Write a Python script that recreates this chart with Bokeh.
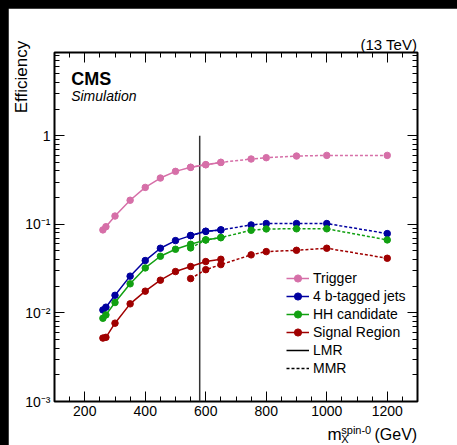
import re
import numpy as np
from bokeh.plotting import figure
from bokeh.models import (Range1d, FixedTicker, LinearAxis, LogAxis, Label, Legend, LegendItem,
                          CustomJSTickFormatter)
from bokeh.embed import file_html
from bokeh.resources import INLINE

# ---------------- data ----------------
mass_lmr = [260, 270, 300, 350, 400, 450, 500, 550, 600, 650]
mass_mmr = [550, 600, 650, 750, 800, 900, 1000, 1200]

trigger_lmr = [0.0865, 0.094, 0.124, 0.187, 0.261, 0.333, 0.396, 0.44, 0.471, 0.50]
trigger_mmr = [0.44, 0.471, 0.50, 0.546, 0.565, 0.59, 0.60, 0.60]
btag_lmr = [0.0108, 0.0116, 0.0158, 0.026, 0.039, 0.0537, 0.0655, 0.0746, 0.0834, 0.0865]
btag_mmr = [0.0746, 0.0834, 0.0865, 0.0984, 0.102, 0.102, 0.102, 0.0786]
hh_lmr = [0.0087, 0.0095, 0.0131, 0.0213, 0.0322, 0.0436, 0.0523, 0.0595, 0.0667, 0.0708]
hh_mmr = [0.0542, 0.0667, 0.0708, 0.0857, 0.0887, 0.089, 0.089, 0.0667]
sr_lmr = [0.0052, 0.0053, 0.00766, 0.01265, 0.0176, 0.0234, 0.0293, 0.0334, 0.038, 0.0403]
sr_mmr = [0.0244, 0.0308, 0.0351, 0.0452, 0.0492, 0.0509, 0.0537, 0.0414]

series_names = ["Trigger", "4 b-tagged jets", "HH candidate", "Signal Region"]
series_colors = ["#d66fa8", "#0000a0", "#11a011", "#a00000"]
lmr_mmr_boundary = 580
x_ticks = [200, 400, 600, 800, 1000, 1200]
y_ticks = [0.001, 0.01, 0.1, 1]

FONT = "Liberation Sans"

p = figure(width=449, height=437, x_range=Range1d(100, 1300), y_range=Range1d(1e-3, 8.7),
           y_axis_type="log", output_backend="svg", toolbar_location=None,
           min_border_left=46, min_border_right=40, min_border_top=44, min_border_bottom=44,
           background_fill_color="white", border_fill_color="white")
p.grid.visible = False
p.outline_line_color = "black"
p.outline_line_width = 2

x_minor = list(range(100, 1301, 50))
y_minor = [k * 10.0 ** e for e in range(-3, 1) for k in range(2, 10)]

sup = CustomJSTickFormatter(code="""
const e = Math.round(Math.log10(tick));
if (e == 0) return "1";
const m = {"-":"\u207b","0":"\u2070","1":"\u00b9","2":"\u00b2","3":"\u00b3","4":"\u2074"};
return "10" + String(e).split("").map(c => m[c]).join("");
""")
blank = CustomJSTickFormatter(code="return '';")

def style(ax, font="14px", standoff=4):
    ax.axis_line_color = None
    ax.major_tick_in = 10
    ax.major_tick_out = 0
    ax.minor_tick_in = 5
    ax.minor_tick_out = 0
    ax.major_tick_line_color = "black"
    ax.minor_tick_line_color = "black"
    ax.major_label_text_font = FONT
    ax.major_label_text_font_size = font
    ax.major_label_text_color = "black"
    ax.major_label_standoff = standoff

p.xaxis.ticker = FixedTicker(ticks=x_ticks, minor_ticks=x_minor)
p.yaxis.ticker = FixedTicker(ticks=y_ticks, minor_ticks=y_minor)
p.yaxis.formatter = sup
style(p.xaxis[0])
style(p.yaxis[0])

top = LinearAxis(ticker=FixedTicker(ticks=x_ticks, minor_ticks=x_minor), formatter=blank)
right = LogAxis(ticker=FixedTicker(ticks=y_ticks, minor_ticks=y_minor), formatter=blank)
style(top, font="0px", standoff=0)
style(right, font="0px", standoff=0)
p.add_layout(top, "above")
p.add_layout(right, "right")

# boundary line
p.segment(x0=[lmr_mmr_boundary], y0=[1e-3], x1=[lmr_mmr_boundary], y1=[1],
          line_color="#333333", line_width=1.5)

lmr_data = [trigger_lmr, btag_lmr, hh_lmr, sr_lmr]
mmr_data = [trigger_mmr, btag_mmr, hh_mmr, sr_mmr]
items = []
for name, col, yl, ym in zip(series_names, series_colors, lmr_data, mmr_data):
    p.line(mass_mmr, ym, line_color=col, line_width=1.5, line_dash="3 2")
    p.scatter(mass_mmr, ym, marker="circle", size=6.5, fill_color=col, line_color=col)
    ll = p.line(mass_lmr, yl, line_color=col, line_width=1.5)
    sl = p.scatter(mass_lmr, yl, marker="circle", size=6.5, fill_color=col, line_color=col)
    items.append(LegendItem(label=name, renderers=[ll, sl]))

lmr_r = p.line([np.nan], [np.nan], line_color="black", line_width=1.5)
mmr_r = p.line([np.nan], [np.nan], line_color="black", line_width=1.5, line_dash="3 2")
items.append(LegendItem(label="LMR", renderers=[lmr_r]))
items.append(LegendItem(label="MMR", renderers=[mmr_r]))

leg = Legend(items=items, location=(232, 24), padding=0, margin=0, spacing=0,
             label_height=18, glyph_height=18, glyph_width=23, label_standoff=4,
             label_text_font=FONT, label_text_font_size="14px", label_text_color="black",
             border_line_alpha=0, background_fill_alpha=0)
p.add_layout(leg)

def lab(x, y, t, size, style="normal", align="left", place=None, angle=0.0):
    l = Label(x=x, y=y, text=t, text_font=FONT, text_font_size=size,
              text_font_style=style, text_align=align, text_baseline="alphabetic",
              text_color="black", angle=angle)
    if place is None:
        p.add_layout(l)
    else:
        p.add_layout(l, place)

lab(155, 4.36, "CMS", "18px", "bold")
lab(155, 2.82, "Simulation", "14px", "italic")

# texts outside the frame (side panels; positioned in data units)
lab(1299, 10.6, "(13 TeV)", "15px", align="right", place="above")
lab(1048, 4.77e-4, "spin-0", "11px", place="above")
lab(1048, 3.78e-4, "X", "11px", place="above")
lab(-10, 11.8, "Efficiency", "17px", align="right", place="right", angle=np.pi / 2)
lab(1002.5, 4.19e-4, "m", "17px", place="right")
lab(1299, 4.19e-4, "(GeV)", "16px", align="right", place="below")

html = file_html(p, INLINE)
css = ("<style>html,body{background:#000 !important;overflow:hidden !important;}"
       "body{margin:0 !important;padding:8px 0 0 8px !important;height:auto !important;"
       "box-sizing:border-box !important;}</style>")
html = re.sub(r"</head>", css + "</head>", html, count=1)
open("out.html", "w").write(html)
